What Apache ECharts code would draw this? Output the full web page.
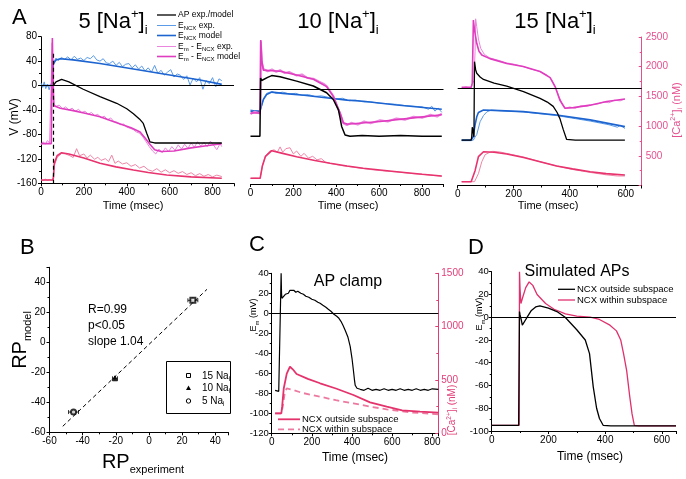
<!DOCTYPE html>
<html><head><meta charset="utf-8">
<script src="https://cdn.jsdelivr.net/npm/echarts/dist/echarts.min.js"></script>
<style>html,body{margin:0;padding:0;background:#fff}#c{width:686px;height:479px}</style>
</head><body><div id="c"></div>
<script>
// ---------- Panel A : 5 [Na+]i ----------
const na5_AP = [[57,0],[70,6],[96,10],[130,6],[197,-6],[275,-18],[353,-29],[400,-38],[431,-46],[460,-55],[477,-62],[493,-78],[508,-92],[530,-94],[586,-94],[700,-94],[843,-94]];
const na5_EncxModel = [[0,0],[55,0],[57,35],[70,42],[90,44],[150,42],[275,36],[431,27],[586,18],[742,9],[843,2]];
const na5_EncxExp = [[0,4],[8,-3],[15,6],[22,-5],[30,2],[38,-7],[46,3],[52,-2],[57,30],[62,40],[70,45],[80,41],[95,46],[110,43],[125,47],[140,42],[155,48],[170,43],[185,45],[200,41],[215,46],[230,44],[245,49],[260,42],[275,40],[290,44],[305,37],[320,36],[335,40],[350,33],[365,38],[380,31],[395,35],[410,36],[425,29],[440,34],[455,27],[470,32],[485,24],[500,29],[515,22],[530,33],[545,20],[560,25],[575,17],[590,22],[605,26],[620,14],[635,19],[650,17],[665,10],[680,16],[695,1],[710,12],[725,6],[740,13],[755,-6],[770,8],[785,3],[800,13],[815,-2],[830,11],[843,8]];
const na5_EmModel = [[0,-95],[48,-95],[51,-92],[53,78],[56,10],[60,-33],[90,-37],[150,-41],[200,-45],[275,-51],[353,-61],[420,-69],[462,-76],[490,-88],[508,-96],[530,-105],[560,-108],[620,-107],[700,-102],[780,-98],[843,-95]];
const na5_EmExp = [[0,-97],[10,-92],[20,-96],[30,-90],[40,-94],[48,-91],[52,70],[55,5],[60,-30],[70,-34],[85,-32],[100,-38],[115,-35],[130,-40],[145,-37],[160,-42],[175,-39],[190,-44],[205,-42],[220,-47],[235,-44],[250,-49],[265,-47],[280,-53],[295,-50],[310,-56],[325,-53],[340,-59],[355,-60],[370,-64],[385,-63],[400,-68],[415,-70],[430,-72],[445,-76],[460,-78],[475,-84],[490,-92],[505,-100],[520,-107],[535,-112],[550,-104],[565,-110],[580,-102],[595,-108],[610,-100],[625,-106],[640,-97],[655,-104],[670,-96],[685,-103],[700,-94],[715,-101],[730,-92],[745,-99],[760,-93],[775,-100],[790,-91],[805,-98],[820,-105],[835,-95],[843,-100]];
const na5_CaModel = [[0,56],[55,56],[58,100],[62,340],[75,470],[96,522],[130,500],[200,430],[275,341],[350,280],[431,227],[500,185],[586,141],[700,110],[843,85]];
const na5_CaExp = [[0,60],[10,45],[20,70],[30,50],[40,62],[52,48],[57,90],[62,300],[75,440],[96,510],[115,500],[135,470],[150,440],[166,590],[180,470],[200,500],[215,430],[230,480],[250,410],[265,445],[280,390],[300,420],[315,370],[330,480],[345,340],[360,380],[380,330],[400,350],[420,290],[440,320],[460,260],[480,290],[500,230],[520,205],[540,250],[560,190],[580,230],[600,180],[620,215],[640,170],[660,200],[680,150],[700,180],[720,130],[740,165],[760,120],[780,150],[800,110],[820,140],[843,115]];

// ---------- Panel A : 10 [Na+]i ----------
const na10_AP = [[0,-77],[44,-77],[46,-77],[47,18],[52,14],[60,15],[80,19],[99,22],[138,20],[215,13],[293,5],[355,-6],[386,-17],[410,-34],[418,-48],[425,-61],[441,-75],[464,-77],[520,-76],[600,-77],[700,-76],[800,-77],[892,-77]];
const na10_EmModel = [[0,-39],[44,-39],[46,-30],[48,80],[53,45],[60,31],[100,30],[138,29],[215,23],[293,16],[355,4],[386,-12],[405,-28],[418,-39],[433,-55],[450,-57],[464,-57],[604,-53],[760,-47],[892,-42]];
const na10_EmExp = [[0,-41],[20,-37],[44,-40],[46,-28],[48,78],[53,44],[60,33],[80,29],[100,32],[120,28],[138,31],[160,26],[180,28],[215,22],[240,24],[265,18],[293,17],[320,12],[340,9],[355,5],[370,-3],[386,-11],[405,-29],[418,-40],[433,-56],[450,-59],[470,-55],[500,-58],[530,-53],[560,-56],[604,-51],[640,-53],[680,-48],[720,-50],[760,-45],[800,-47],[840,-42],[870,-45],[892,-40]];
const na10_EncxModel = [[0,-36],[44,-36],[48,-33],[60,-17],[75,-9],[99,-5],[150,-7],[250,-10],[371,-15],[450,-18],[526,-20],[682,-26],[892,-33]];
const na10_EncxExp = [[0,-34],[44,-37],[50,-30],[62,-15],[75,-7],[99,-4],[120,-7],[150,-5],[180,-8],[210,-7],[240,-10],[270,-9],[300,-12],[330,-11],[371,-14],[400,-16],[430,-15],[460,-19],[490,-18],[526,-21],[560,-21],[600,-23],[640,-24],[682,-25],[720,-27],[760,-28],[800,-29],[830,-33],[845,-28],[860,-36],[875,-31],[892,-38]];
const na10_CaModel = [[0,97],[45,97],[50,110],[55,300],[70,470],[99,565],[150,520],[215,463],[300,400],[371,351],[450,305],[526,266],[682,209],[800,165],[892,136]];
const na10_CaExp = [[0,95],[20,100],[45,95],[50,120],[56,320],[70,480],[90,560],[110,580],[125,540],[138,630],[150,540],[165,600],[184,615],[200,510],[215,560],[235,470],[250,520],[270,440],[290,470],[310,410],[330,430],[350,370],[371,350],[400,330],[430,310],[460,295],[490,280],[526,262],[560,245],[600,230],[640,215],[682,205],[720,190],[760,175],[800,165],[840,150],[892,130]];

// ---------- Panel A : 15 [Na+]i ----------
const na15_AP = [[14,-85],[48,-85],[50,-80],[52,-64],[56,-64],[58,-80],[60,43],[64,30],[68,24],[80,18],[92,14],[130,8],[175,3],[235,-6],[294,-17],[320,-23],[341,-30],[355,-40],[365,-50],[377,-68],[389,-84],[420,-85],[500,-85],[597,-85]];
const na15_EmModel = [[14,1],[48,1],[52,8],[55,10],[56,111],[60,95],[68,73],[76,60],[86,54],[115,48],[175,40],[234,35],[294,27],[330,17],[348,2],[365,-20],[383,-33],[413,-32],[473,-28],[532,-22],[597,-18]];
const na15_EmExp = [[14,0],[30,2],[48,-1],[52,6],[58,12],[62,60],[64,113],[68,100],[74,80],[82,65],[95,55],[115,49],[140,46],[175,41],[200,39],[234,35],[260,31],[294,27],[320,21],[335,14],[348,3],[360,-12],[372,-25],[383,-33],[400,-31],[420,-33],[440,-29],[460,-30],[480,-27],[500,-26],[520,-23],[540,-24],[560,-20],[580,-21],[597,-18]];
const na15_EncxModel = [[14,-85],[48,-85],[55,-80],[62,-60],[68,-47],[74,-40],[92,-36],[150,-37],[234,-38.6],[353,-44],[473,-52],[597,-63]];
const na15_EncxExp = [[14,-86],[48,-86],[56,-85],[62,-80],[68,-76],[80,-55],[92,-45],[104,-39],[120,-36],[150,-37],[234,-39],[353,-45],[420,-50],[473,-54],[540,-60],[570,-64],[580,-61],[597,-66]];
const na15_CaModel = [[14,64],[48,64],[55,70],[62,250],[74,485],[92,569],[130,560],[175,530],[235,470],[294,401],[353,328],[410,280],[473,232],[530,200],[597,177]];
const na15_CaExp = [[14,64],[60,64],[66,80],[74,200],[86,400],[98,520],[115,560],[125,575],[150,565],[175,540],[235,480],[294,400],[353,330],[410,270],[473,220],[530,180],[570,160],[597,160]];

// vertical dashed markers in panel A (time, top voltage)
const dashT = [57, 375, 356];
const dashTop = [52, 42, 79];

// ---------- Panel B ----------
const rpNames = ['15 Na', '10 Na', '5 Na'];
const rpExp = [26.5, -20.5, -45.5];
const rpModel = [28, -24, -46.5];
const rpExpErr = [3, 1.5, 3];
const rpModelErr = [2, 1.5, 1];
const rpSymbols = ['emptyRect', 'triangle', 'emptyCircle'];
const fitX = [-52, 35];
const fitY = [-56, 35.3];

// ---------- Panel C ----------
const clampAP = [[17,-77],[25,-76],[35,-78],[44,-77],[46,-77],[47,40],[49,20],[51,15],[56,14],[60,17],[68,19],[75,21],[83,20],[91,23],[100,22],[110,23],[120,21],[130,22],[145,20],[158,19],[170,17],[185,16],[200,14],[215,13],[230,11],[241,10],[255,8],[270,6],[282,4],[295,2],[310,-1],[324,-3],[335,-5],[345,-8],[355,-12],[366,-17],[380,-24],[391,-33],[400,-45],[407,-57],[412,-66],[416,-72],[425,-75],[441,-76],[460,-77],[480,-75],[500,-77],[520,-76],[540,-77],[560,-75.5],[580,-77],[600,-76],[620,-77],[640,-75.5],[660,-77],[680,-76],[700,-77],[720,-75.5],[740,-77],[760,-76],[780,-77],[800,-75.5],[830,-76]];
const clampCaOut = [[17,187],[48,187],[52,250],[60,420],[75,560],[91,624],[105,600],[124,556],[180,510],[241,469],[320,420],[407,359],[490,290],[573,250],[650,215],[739,203],[830,193]];
const clampCaIn = [[17,187],[48,187],[55,250],[65,380],[75,422],[100,410],[150,380],[241,343],[320,310],[407,281],[490,250],[573,225],[700,195],[830,178]];

// ---------- Panel D ----------
const simOut = [[0,-95],[95,-95],[97,-95],[98,5],[100,2],[104,-2],[108,-7],[115,-6],[125,0],[140,6],[155,9],[170,10],[200,8],[230,5],[259,0],[300,-11],[330,-20],[345,-32],[358,-61],[370,-80],[380,-89],[393,-95],[420,-95.5],[650,-95.5]];
const simIn = [[0,-95],[97,-95],[98,40],[100,25],[103,12],[110,18],[120,26],[132,31],[145,28],[160,20],[190,12],[220,7],[260,3],[300,1],[347,0],[380,-2],[417,-7],[440,-12],[455,-20],[465,-32],[476,-47],[487,-70],[495,-85],[503,-95],[520,-95.5],[650,-95.5]];

// ---------------------------------------------------------------
const FONT = 'Arial, "Liberation Sans", sans-serif';
const C_BLUE = '#1d64d0', C_BLUE_L = '#5b9be8', C_MAG = '#e03cbf', C_MAG_L = '#ea86dc';
const C_RED = '#e8336e', C_RED_L = '#ef85a6', C_PINK_AX = '#e4508e';

function xAx(gi, min, max, interval, step) {
  return {
    gridIndex: gi, type: 'value', min, max, interval,
    axisLine: {show: true, onZero: false, lineStyle: {color: '#000', width: 1}},
    axisTick: {show: true, length: 3, lineStyle: {color: '#000'}},
    minorTick: {show: true, splitNumber: 2, length: 2, lineStyle: {color: '#000'}},
    splitLine: {show: false},
    axisLabel: {fontSize: 10, color: '#000', fontFamily: FONT, margin: 4,
      formatter: v => (Math.abs(v % step) < 1e-6 ? String(v) : '')}
  };
}
function yAx(gi, min, max, interval, show, extra) {
  return Object.assign({
    gridIndex: gi, type: 'value', min, max, interval, show: show,
    axisLine: {show: true, onZero: false, lineStyle: {color: '#000', width: 1}},
    axisTick: {show: true, length: 3, lineStyle: {color: '#000'}},
    minorTick: {show: true, splitNumber: 2, length: 2, lineStyle: {color: '#000'}},
    splitLine: {show: false},
    axisLabel: {fontSize: 10, color: '#000', fontFamily: FONT, margin: 4,
      formatter: v => (Math.abs(v % interval) < 1e-6 ? String(v) : '')}
  }, extra || {});
}
function L(xi, yi, data, color, width, extra) {
  return Object.assign({type: 'line', xAxisIndex: xi, yAxisIndex: yi, data: data, symbol: 'none',
    showSymbol: false, lineStyle: {color: color, width: width}, itemStyle: {color: color},
    animation: false, silent: true}, extra || {});
}
function marks(i) {
  return {symbol: 'none', silent: true, animation: false, label: {show: false},
    lineStyle: {color: '#000', width: 1, type: 'solid'},
    data: [
      {yAxis: 0},
      [{coord: [dashT[i], dashTop[i]], lineStyle: {type: [4, 3], color: '#000', width: 1.2}},
       {coord: [dashT[i], -160]}]
    ]};
}

const grid = [
  {left: 41, top: 36.7, width: 193, height: 146.6},     // A5
  {left: 250.5, top: 36.7, width: 193, height: 147.3},  // A10
  {left: 457.7, top: 37, width: 184, height: 148.5},    // A15
  {left: 49.5, top: 267.3, width: 179, height: 165},    // B
  {left: 271.7, top: 273.3, width: 166.6, height: 160}, // C
  {left: 491.7, top: 271.7, width: 184.3, height: 159.3} // D
];
const xAxis = [
  xAx(0, 0, 900, 200, 200),
  xAx(1, 0, 900, 200, 200),
  xAx(2, 0, 657, 200, 200),
  xAx(3, -60, 48, 20, 20),
  xAx(4, 0, 830, 200, 200),
  xAx(5, 0, 650, 200, 200)
];
const pinkAxis = (col) => ({
  position: 'right',
  axisLine: {show: true, onZero: false, lineStyle: {color: col, width: 1}},
  axisTick: {show: true, inside: true, length: 3, lineStyle: {color: col}},
  minorTick: {show: true, splitNumber: 2, length: 2, lineStyle: {color: col}},
});
const yAxis = [
  yAx(0, -160, 80, 40, true),              // 0 A5 V
  yAx(0, 0, 2500, 500, false),             // 1 A5 Ca
  yAx(1, -155, 85.5, 40, false),           // 2 A10 V
  yAx(1, 0, 2500, 500, false),             // 3 A10 Ca
  yAx(2, -159.2, 83.3, 40, false),         // 4 A15 V
  yAx(2, 0, 2500, 500, true, Object.assign(pinkAxis(C_PINK_AX), {
    axisLabel: {fontSize: 10, color: C_PINK_AX, fontFamily: FONT, margin: 4,
      formatter: v => (v > 0 && v % 500 === 0 ? String(v) : '')}})), // 5 A15 Ca
  yAx(3, -60, 50, 20, true),               // 6 B
  yAx(4, -120, 40, 20, true, {axisLabel: {fontSize: 9.5, color: '#000', fontFamily: FONT, margin: 3,
      formatter: v => (v % 20 === 0 ? String(v) : '')}}), // 7 C V
  yAx(4, 0, 1500, 500, true, Object.assign(pinkAxis('#e23c78'), {
    axisLabel: {fontSize: 10, color: '#e23c78', fontFamily: FONT, margin: 3,
      formatter: v => (v % 500 === 0 ? String(v) : '')}})), // 8 C Ca
  yAx(5, -100, 40, 20, true, {axisLabel: {fontSize: 9.5, color: '#000', fontFamily: FONT, margin: 3,
      formatter: v => (v % 20 === 0 ? String(v) : '')}})  // 9 D V
];

const series = [
  // A5
  L(0, 0, na5_EncxExp, C_BLUE_L, 1),
  L(0, 0, na5_EncxModel, C_BLUE, 1.6),
  L(0, 0, na5_EmExp, C_MAG_L, 1),
  L(0, 0, na5_EmModel, C_MAG, 1.6),
  L(0, 1, na5_CaExp, C_RED_L, 1),
  L(0, 1, na5_CaModel, C_RED, 1.6),
  L(0, 0, na5_AP, '#000', 1.3, {markLine: marks(0)}),
  // A10
  L(1, 2, na10_EncxExp, C_BLUE_L, 1),
  L(1, 2, na10_EncxModel, C_BLUE, 1.6),
  L(1, 2, na10_EmExp, C_MAG_L, 2),
  L(1, 2, na10_EmModel, C_MAG, 1.6),
  L(1, 3, na10_CaExp, C_RED_L, 1),
  L(1, 3, na10_CaModel, C_RED, 1.6),
  L(1, 2, na10_AP, '#000', 1.5, {markLine: marks(1)}),
  // A15
  L(2, 4, na15_EncxExp, C_BLUE_L, 1),
  L(2, 4, na15_EncxModel, C_BLUE, 1.6),
  L(2, 4, na15_EmExp, C_MAG_L, 1, {clip: false}),
  L(2, 4, na15_EmModel, C_MAG, 1.6, {clip: false}),
  L(2, 5, na15_CaExp, C_RED_L, 1),
  L(2, 5, na15_CaModel, C_RED, 1.6),
  L(2, 4, na15_AP, '#000', 1.3, {markLine: marks(2)}),
  // B
  {type: 'line', xAxisIndex: 3, yAxisIndex: 6, data: fitX.map((x, i) => [x, fitY[i]]), symbol: 'none',
   lineStyle: {color: '#000', width: 1, type: [4, 3]}, animation: false, silent: true},
  {type: 'custom', xAxisIndex: 3, yAxisIndex: 6, animation: false, silent: true,
   data: rpExp.map((x, i) => [x, rpModel[i], rpExpErr[i], rpModelErr[i]]),
   renderItem: function (params, api) {
     const x = api.value(0), y = api.value(1), ex = api.value(2), ey = api.value(3);
     const a = api.coord([x - ex, y]), b = api.coord([x + ex, y]);
     const c = api.coord([x, y - ey]), d = api.coord([x, y + ey]);
     const st = {stroke: '#000', lineWidth: 0.8};
     return {type: 'group', children: [
       {type: 'line', shape: {x1: a[0], y1: a[1], x2: b[0], y2: b[1]}, style: st},
       {type: 'line', shape: {x1: a[0], y1: a[1] - 2, x2: a[0], y2: a[1] + 2}, style: st},
       {type: 'line', shape: {x1: b[0], y1: b[1] - 2, x2: b[0], y2: b[1] + 2}, style: st},
       {type: 'line', shape: {x1: c[0], y1: c[1], x2: d[0], y2: d[1]}, style: st}
     ]};
   }},
  ...rpNames.map((n, i) => ({type: 'scatter', name: n, xAxisIndex: 3, yAxisIndex: 6,
    data: [[rpExp[i], rpModel[i]]], symbol: rpSymbols[i], symbolSize: 5,
    itemStyle: {color: '#000', borderColor: '#000', borderWidth: 1}, animation: false, silent: true})),
  // C
  L(4, 8, clampCaIn, '#ec7aa0', 1.8, {lineStyle: {color: '#ec7aa0', width: 1.8, type: [6, 4]}}),
  L(4, 8, clampCaOut, '#e4336c', 1.8),
  L(4, 7, clampAP, '#000', 1.2, {markLine: {symbol: 'none', silent: true, animation: false, label: {show: false},
    lineStyle: {color: '#000', width: 1, type: 'solid'}, data: [{yAxis: 0}]}}),
  // D
  L(5, 9, simIn, '#e0306e', 1.3),
  L(5, 9, simOut, '#000', 1.3, {markLine: {symbol: 'none', silent: true, animation: false, label: {show: false},
    lineStyle: {color: '#000', width: 1, type: 'solid'}, data: [{yAxis: 0}]}})
];

// ---------- texts / legends ----------
function T(x, y, text, size, opts) {
  opts = opts || {};
  return {type: 'text', x: x, y: y, rotation: opts.rot || 0, z: 100, silent: true,
    style: Object.assign({text: text, fontSize: size, fontFamily: FONT, fill: opts.color || '#000',
      align: opts.align || 'center', verticalAlign: opts.va || 'middle', rich: opts.rich}, opts.style || {})};
}
function titleNa(x, n) {
  return T(x, 22, '{m|' + n + ' [Na}{sup|+}{m|]}{sub|i}', 22, {rich: {
    m: {fontSize: 22, lineHeight: 30, fontFamily: FONT, fill: '#000'},
    sup: {fontSize: 13, lineHeight: 14, verticalAlign: 'top', fontFamily: FONT, fill: '#000', padding: [1, 0, 0, 0]},
    sub: {fontSize: 13, lineHeight: 14, verticalAlign: 'bottom', fontFamily: FONT, fill: '#000'}}});
}
const smallRich = (col) => ({
  m: {fontSize: 8.5, fontFamily: FONT, fill: col || '#000', lineHeight: 12},
  s: {fontSize: 6, fontFamily: FONT, fill: col || '#000', verticalAlign: 'bottom', lineHeight: 9}
});
const subRich = (size, col) => ({
  m: {fontSize: size, fontFamily: FONT, fill: col, lineHeight: size + 3},
  u: {fontSize: size * 0.65, fontFamily: FONT, fill: col, verticalAlign: 'top', lineHeight: size * 0.7},
  s: {fontSize: size * 0.65, fontFamily: FONT, fill: col, verticalAlign: 'bottom', lineHeight: size * 0.7}
});
function legLine(x1, x2, y, color, w, dash) {
  return {type: 'line', z: 100, silent: true, shape: {x1: x1, y1: y, x2: x2, y2: y},
    style: {stroke: color, lineWidth: w, lineDash: dash || null}};
}
const aLeg = [
  ['{m|AP exp./model}', '#000', 1.3],
  ['{m|E}{s|NCX}{m| exp.}', C_BLUE_L, 1],
  ['{m|E}{s|NCX}{m| model}', C_BLUE, 1.6],
  ['{m|E}{s|m}{m| - E}{s|NCX}{m| exp.}', C_MAG_L, 1],
  ['{m|E}{s|m}{m| - E}{s|NCX}{m| model}', C_MAG, 1.6]
];
const aLegY = [15, 25.5, 35.5, 46.5, 56.5];

const graphic = [
  T(12, 18, 'A', 22, {align: 'left'}),
  T(20, 248, 'B', 22, {align: 'left'}),
  T(249, 245, 'C', 22, {align: 'left'}),
  T(468, 248, 'D', 22, {align: 'left'}),
  titleNa(113, '5'), titleNa(338, '10'), titleNa(555, '15'),
  T(15, 117, 'V (mV)', 12, {rot: Math.PI / 2}),
  T(133, 206, 'Time (msec)', 11), T(348, 206, 'Time (msec)', 11), T(548, 206, 'Time (msec)', 11),
  T(677, 110, '{m|[Ca}{u|2+}{m|]}{s|i}{m| (nM)}', 11, {rot: Math.PI / 2, rich: subRich(11, C_PINK_AX)}),
  ...aLeg.map((r, i) => legLine(157, 176, aLegY[i], r[1], r[2])),
  ...aLeg.map((r, i) => T(178, aLegY[i], r[0], 8.5, {align: 'left', rich: smallRich()})),
  // B
  T(88, 310, 'R=0.99', 12, {align: 'left'}),
  T(88, 326, 'p<0.05', 12, {align: 'left'}),
  T(88, 342, 'slope 1.04', 12, {align: 'left'}),
  T(20, 340, '{m|RP}{s|model}', 20, {rot: Math.PI / 2, rich: {
    m: {fontSize: 20, fontFamily: FONT, fill: '#000', lineHeight: 26},
    s: {fontSize: 11, fontFamily: FONT, fill: '#000', verticalAlign: 'bottom', lineHeight: 12}}}),
  T(143, 462, '{m|RP}{s|experiment}', 20, {rich: {
    m: {fontSize: 20, fontFamily: FONT, fill: '#000', lineHeight: 26},
    s: {fontSize: 11, fontFamily: FONT, fill: '#000', verticalAlign: 'bottom', lineHeight: 12}}}),
  {type: 'rect', z: 100, silent: true, shape: {x: 166.5, y: 361.5, width: 64, height: 52},
    style: {fill: null, stroke: '#000', lineWidth: 1}},
  {type: 'rect', z: 100, silent: true, shape: {x: 186.5, y: 373.5, width: 4, height: 4},
    style: {fill: null, stroke: '#000', lineWidth: 1}},
  {type: 'polygon', z: 100, silent: true, shape: {points: [[188.5, 385.5], [186, 390], [191, 390]]},
    style: {fill: '#000'}},
  {type: 'circle', z: 100, silent: true, shape: {cx: 188.5, cy: 401, r: 2.2},
    style: {fill: null, stroke: '#000', lineWidth: 1}},
  ...rpNames.map((n, i) => T(202, [376, 388.5, 401][i], '{m|' + n + '}{s|i}', 10, {align: 'left', rich: subRich(10, '#000')})),
  // C
  T(348, 282, 'AP clamp', 16),
  T(254, 315, '{m|E}{s|m}{m| (mV)}', 9, {rot: Math.PI / 2, rich: subRich(9, '#000')}),
  T(452, 410, '{m|[Ca}{u|2+}{m|]}{s|i}{m| (nM)}', 10, {rot: Math.PI / 2, rich: subRich(10, '#e23c78')}),
  T(355, 458, 'Time (msec)', 12),
  legLine(278, 300, 419.3, '#e4336c', 1.8),
  legLine(278, 300, 429.3, '#ec7aa0', 1.8, [6, 4]),
  T(302, 419.3, 'NCX outside subspace', 9.5, {align: 'left'}),
  T(302, 429.3, 'NCX within subspace', 9.5, {align: 'left'}),
  // D
  T(577, 272, 'Simulated APs', 16),
  T(480, 314, '{m|E}{s|m}{m| (mV)}', 9, {rot: Math.PI / 2, rich: subRich(9, '#000')}),
  T(590, 457, 'Time (msec)', 12),
  legLine(558, 575, 289.3, '#000', 1.3),
  legLine(558, 575, 300, '#e0306e', 1.3),
  T(577, 289.3, 'NCX outside subspace', 9.5, {align: 'left'}),
  T(577, 300, 'NCX within subspace', 9.5, {align: 'left'})
];

const chart = echarts.init(document.getElementById('c'), null, {renderer: 'canvas'});
chart.setOption({
  backgroundColor: '#fff', animation: false,
  textStyle: {fontFamily: FONT},
  grid: grid, xAxis: xAxis, yAxis: yAxis, series: series, graphic: graphic
});
</script></body></html>
